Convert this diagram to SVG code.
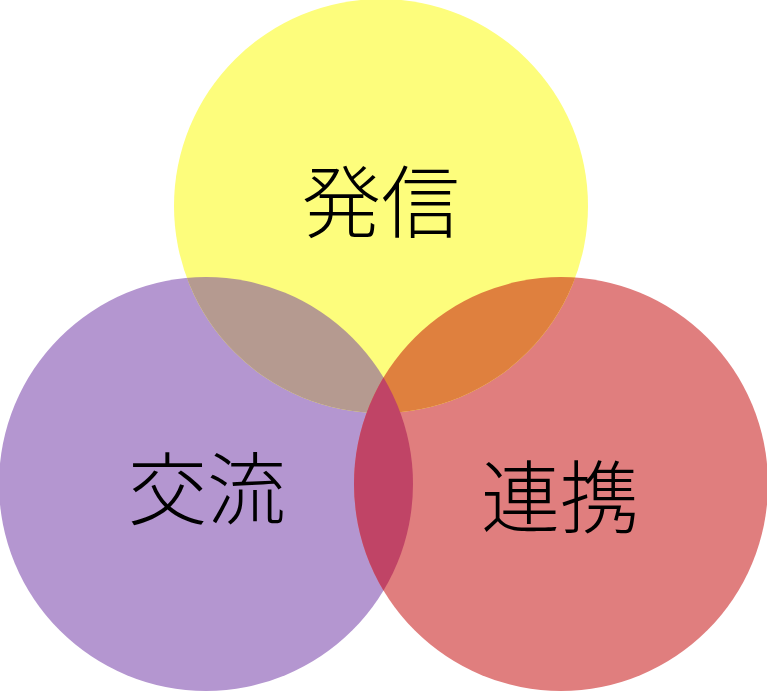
<svg xmlns="http://www.w3.org/2000/svg" width="767" height="691" viewBox="0 0 767 691">
<style>
text{font-family:"Noto Sans CJK JP",sans-serif;font-size:79px;font-weight:300;fill:#000;text-anchor:middle}
</style>
<defs>
<clipPath id="cp"><circle cx="206" cy="484" r="207"/></clipPath>
<clipPath id="cr"><circle cx="561" cy="484" r="207"/></clipPath>
</defs>
<rect width="767" height="691" fill="#fff"/>
<g id="purple"><circle cx="206" cy="484" r="207" fill="#b496d0"/></g>
<g id="red"><circle cx="561" cy="484" r="207" fill="#e07e7e"/></g>
<g id="yellow"><circle cx="381" cy="206" r="207" fill="#fdfd7c"/></g>
<g id="overlaps">
<circle cx="381" cy="206" r="207" fill="#b59a90" clip-path="url(#cp)"/>
<circle cx="381" cy="206" r="207" fill="#df803e" clip-path="url(#cr)"/>
<circle cx="206" cy="484" r="207" fill="#c04466" clip-path="url(#cr)"/>
</g>
<g id="labels">
<text x="381" y="232">発信</text>
<text x="207" y="519">交流</text>
<text x="560" y="527">連携</text>
</g>
<g id="connectors"/>
</svg>
